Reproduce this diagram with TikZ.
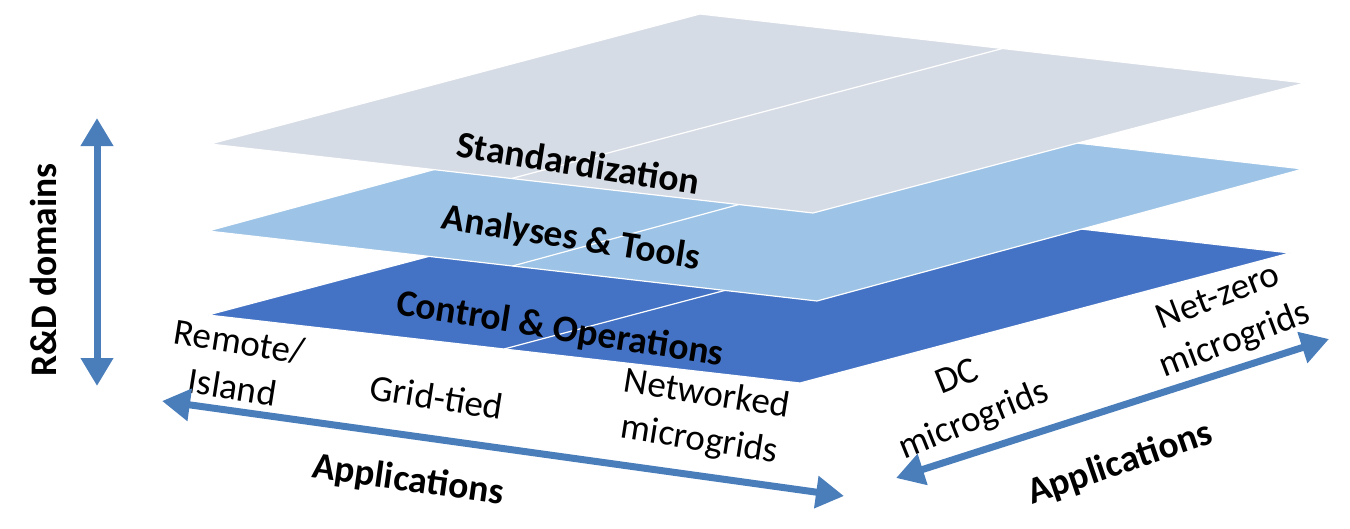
\documentclass[tikz,border=0pt]{standalone}
\usepackage{fontspec}
\setmainfont{Carlito}
\usetikzlibrary{arrows.meta,calc}
\definecolor{stdgray}{HTML}{D6DCE5}
\definecolor{ltblue}{HTML}{9DC3E6}
\definecolor{dkblue}{HTML}{4472C4}
\definecolor{arrowblue}{HTML}{4A7EBB}
\begin{document}
\begin{tikzpicture}[x=1pt,y=-1pt,
  layer/.style={draw=white, line width=1.2pt, line join=round},
  midline/.style={draw=white, line width=1.2pt},
  bigarrow/.style={draw=arrowblue, line width=7pt,
    {Triangle[width=31pt,length=28pt,fill=arrowblue]}-{Triangle[width=31pt,length=28pt,fill=arrowblue]}},
  lbl/.style={font=\fontsize{37}{46}\selectfont, align=center, inner sep=0pt},
  blbl/.style={font=\fontsize{37.5}{45}\selectfont\bfseries, align=center, inner sep=0pt}]
\useasboundingbox (0,0) rectangle (1350,528);

% Control & Operations layer
\coordinate (cL) at (208,315);
\coordinate (cB) at (800,383);
\coordinate (cR) at (1290,253);
\coordinate (cT) at (698,185);
\fill[dkblue] (cL) -- (cB) -- (cR) -- (cT) -- cycle;
\draw[layer] (cL) -- (cB) -- (cR) -- (cT) -- cycle;
\draw[midline] ($(cL)!0.5!(cB)$) -- ($(cT)!0.5!(cR)$);

% Analyses & Tools layer
\coordinate (aL) at (208,231);
\coordinate (aB) at (817,301);
\coordinate (aR) at (1303,169);
\coordinate (aT) at (694,99);
\fill[ltblue] (aL) -- (aB) -- (aR) -- (aT) -- cycle;
\draw[layer] (aL) -- (aB) -- (aR) -- (aT) -- cycle;
\draw[midline] ($(aL)!0.5!(aB)$) -- ($(aT)!0.5!(aR)$);

% Standardization layer
\coordinate (sL) at (210,144);
\coordinate (sB) at (813,213);
\coordinate (sR) at (1305,83);
\coordinate (sT) at (700,14);
\fill[stdgray] (sL) -- (sB) -- (sR) -- (sT) -- cycle;
\draw[layer] (sL) -- (sB) -- (sR) -- (sT) -- cycle;
\draw[midline] ($(sL)!0.5!(sB)$) -- ($(sT)!0.5!(sR)$);

% layer labels
\node[blbl, rotate=-9] (std) at (578,163) {Standardization};
\node[blbl, rotate=-9] (ana) at (571,239) {Analyses \& Tools};
\node[blbl, rotate=-9] (ctl) at (560,330) {Control \& Operations};

% application labels
\node[lbl, rotate=-9] (rem) at (236,364) {Remote/\\Island};
\node[lbl, rotate=-9] (grid) at (437,397) {Grid-tied};
\node[lbl, rotate=-9] (net) at (703,418) {Networked\\microgrids};
\node[lbl, rotate=22] (dc) at (966,400) {DC\\microgrids};
\node[lbl, rotate=21] (nz) at (1227,320) {Net-zero\\microgrids};

% axis labels
\node[blbl, rotate=-8] (appl) at (408,481) {Applications};
\node[blbl, rotate=19] (appr) at (1120,464) {Applications};
\node[blbl, rotate=90] (rd) at (43,270) {R\&D domains};

% arrows
\coordinate (rdT) at (97,118);
\coordinate (rdB) at (97,386);
\draw[bigarrow] (rdB) -- (rdT);
\coordinate (alL) at (162,401);
\coordinate (alR) at (844,496);
\draw[bigarrow] (alL) -- (alR);
\coordinate (arL) at (896,478);
\coordinate (arR) at (1329,339);
\draw[bigarrow] (arL) -- (arR);
\end{tikzpicture}
\end{document}
